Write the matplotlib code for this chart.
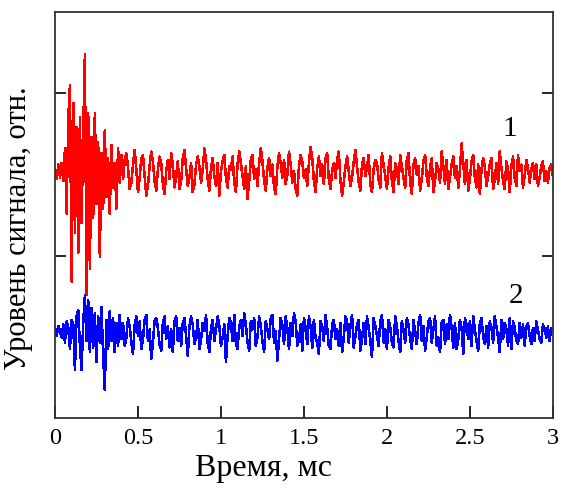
import numpy as np
import matplotlib
matplotlib.use("Agg")
import matplotlib.pyplot as plt

plt.rcParams['font.family'] = ['Liberation Serif', 'DejaVu Serif']

# Signal levels (relative units)
red_level = 1.51
blue_level = 0.525

# Red signal (curve 1): deviations from its level, sampled every 0.01 ms from 0 to 3 ms
red_dev = [
    0.02, -0.04, 0.05, -0.03, 0.06, -0.05,
    0.15, -0.25, 0.34, 0.54, -0.67, 0.43, -0.37, 0.28, -0.49, 0.34,
    -0.31, 0.25, 0.73, -0.75, 0.37, -0.59, 0.22, -0.28, 0.37, -0.19,
    0.19, -0.52, 0.12, -0.22, 0.26, -0.15, 0.09, -0.25, 0.17, -0.09,
    0.06, -0.22, 0.15, -0.06, 0.11,
    -0.04, 0.08, 0.12, 0.03, -0.10, -0.06, 0.05, 0.14, 0.02, -0.12, -0.03, 0.09, 0.11, -0.02, -0.14, -0.08, 0.04, 0.13, 0.07, -0.05,
    -0.11, 0.02, 0.10, 0.06, -0.07, -0.13, 0.01, 0.08, -0.04, 0.12, 0.05, -0.09, -0.02, 0.07, -0.10, -0.05, 0.09, 0.14, 0.03, -0.08,
    -0.03, 0.06, -0.12, -0.07, 0.05, 0.10, 0.04, -0.06, 0.02, 0.15, 0.08, -0.04, -0.11, 0.03, 0.09, -0.02, -0.08, 0.06, -0.14, 0.01,
    0.07, 0.11, -0.03, -0.09, 0.04, 0.02, 0.10, -0.06, -0.12, 0.05, 0.13, 0.06, -0.02, -0.10, 0.04, -0.16, -0.05, 0.08, 0.11, -0.04,
    0.02, -0.08, 0.06, 0.15, 0.07, -0.05, -0.11, 0.03, 0.09, -0.02, 0.05, -0.09, -0.13, 0.04, 0.12, 0.06, -0.03, 0.08, -0.07, -0.01,
    0.13, 0.05, -0.06, 0.01, -0.10, -0.14, 0.04, 0.11, 0.07, -0.03, 0.02, -0.08, 0.06, 0.16, 0.09, -0.05, -0.12, 0.03, 0.10, -0.02,
    0.05, -0.07, 0.09, 0.12, -0.04, -0.10, 0.02, 0.06, -0.03, 0.08, 0.13, -0.05, -0.14, -0.06, 0.04, 0.10, 0.01, -0.08, -0.03, 0.07,
    0.14, 0.04, -0.06, -0.11, 0.05, 0.09, -0.02, 0.03, 0.11, -0.07, -0.12, 0.02, 0.08, 0.06, -0.04, -0.09, 0.12, 0.05, -0.02, -0.10,
    0.03, 0.10, -0.05, -0.12, 0.06, 0.02, -0.07, 0.11, 0.04, -0.03, -0.09, 0.08, 0.12, -0.06, -0.13, 0.05, 0.09, -0.01, 0.04, -0.11,
    -0.04, 0.07, 0.11, -0.02, -0.08, 0.03, 0.09, -0.12, -0.05, 0.06, 0.02, -0.06, 0.13, 0.04, -0.07, 0.08, -0.10, -0.03, 0.05, 0.10,
    -0.03, 0.04, -0.09, 0.02, 0.18, 0.06, -0.07, 0.08, -0.11, -0.04, 0.07, 0.11, -0.03, -0.09, 0.05, -0.13, 0.02, 0.09, 0.04, -0.08,
    -0.02, 0.05, 0.09, -0.10, -0.04, 0.06, -0.07, 0.13, 0.03, -0.05, -0.10, 0.07, 0.02, -0.12, 0.04, 0.10, -0.03, -0.08, 0.11, 0.01,
    0.05, -0.09, -0.02, 0.08, 0.03, -0.06, 0.02, 0.06, -0.04, 0.05, -0.08, -0.03, 0.04, 0.07, -0.05, 0.01, -0.06, 0.03, 0.05, -0.02,
]

# Blue signal (curve 2)
blue_dev = [
    0.03, -0.02, 0.04, 0.01, -0.03, 0.05,
    -0.06, 0.07, 0.03, -0.10, 0.08, 0.05, -0.23, 0.10, 0.14, -0.08,
    -0.23, 0.06, 0.23, -0.05, 0.20, -0.12, 0.15, -0.09, 0.12, -0.18,
    0.10, -0.06, 0.16, -0.14, -0.35, 0.08, -0.10, 0.13, -0.05, 0.09,
    -0.12, 0.06, -0.08, 0.11, -0.04,
    0.06, -0.08, -0.03, 0.09, 0.04, -0.06, -0.13, 0.05, 0.10, -0.02, 0.07, -0.10, -0.04, 0.08, 0.11, -0.05, 0.02, -0.16, -0.06, 0.07,
    0.09, 0.03, -0.07, -0.11, 0.06, 0.10, -0.04, 0.04, -0.09, 0.02, -0.12, 0.07, 0.10, -0.05, 0.03, -0.08, 0.06, 0.09, -0.02, -0.14,
    0.04, 0.10, 0.05, -0.07, -0.03, 0.08, -0.10, -0.04, 0.06, 0.01, 0.11, -0.06, -0.12, 0.03, 0.08, -0.05, 0.02, 0.10, 0.04, -0.08,
    -0.03, 0.05, -0.18, -0.02, 0.09, 0.06, -0.05, 0.11, -0.07, -0.10, 0.04, 0.08, -0.02, 0.12, 0.05, -0.06, -0.11, 0.07, 0.02, 0.09,
    -0.08, -0.03, 0.10, 0.04, -0.05, -0.12, 0.07, 0.02, -0.04, 0.09, 0.11, -0.06, 0.01, -0.17, -0.04, 0.09, 0.05, -0.07, 0.10, 0.03,
    -0.10, 0.06, -0.02, 0.12, 0.07, -0.08, -0.04, 0.05, -0.11, 0.09, 0.03, -0.07, 0.10, 0.04, -0.09, 0.08, -0.03, -0.06, -0.13, 0.07,
    0.04, -0.05, 0.11, 0.03, -0.08, -0.10, 0.05, 0.08, -0.04, 0.02, -0.08, 0.06, -0.12, -0.03, 0.10, 0.07, -0.06, 0.04, 0.11, -0.09,
    -0.02, 0.05, 0.08, -0.11, -0.04, 0.06, -0.07, 0.10, 0.03, -0.05, -0.15, 0.09, 0.04, -0.02, -0.08, 0.07, 0.11, -0.06, 0.02, -0.10,
    0.08, 0.03, -0.06, -0.09, 0.10, 0.04, -0.05, -0.12, 0.07, 0.02, -0.06, 0.09, 0.05, -0.04, -0.10, 0.08, 0.01, -0.07, 0.06, 0.11,
    -0.05, 0.04, -0.11, -0.03, 0.07, 0.09, -0.06, 0.02, 0.10, -0.08, -0.03, -0.12, 0.06, 0.08, -0.07, 0.05, -0.04, 0.11, 0.03, -0.09,
    0.06, -0.10, -0.04, 0.08, 0.03, -0.13, 0.09, 0.05, -0.04, 0.07, -0.08, 0.10, 0.02, -0.05, -0.11, 0.06, 0.09, -0.02, -0.07, 0.04,
    -0.09, 0.07, 0.03, -0.06, 0.10, 0.04, -0.03, -0.12, 0.08, -0.04, 0.06, 0.02, -0.08, 0.09, -0.10, 0.07, 0.03, -0.05, -0.07, 0.06,
    -0.03, 0.05, -0.08, 0.04, 0.06, -0.02, -0.07, 0.03, -0.05, 0.07, 0.02, -0.04, -0.06, 0.05, 0.03, -0.03, 0.04, -0.05, 0.03, 0.02,
]

x_ticks = [0, 0.5, 1, 1.5, 2, 2.5, 3]
x_tick_labels = ["0", "0.5", "1", "1.5", "2", "2.5", "3"]
y_ticks = [1, 2]

t_red = np.linspace(0, 3, len(red_dev))
t_blue = np.linspace(0, 3, len(blue_dev))
red = red_level + np.array(red_dev)
blue = blue_level + np.array(blue_dev)

fig = plt.figure(figsize=(5.63, 4.88), dpi=100)
ax = fig.add_axes([0.0977, 0.1434, 0.8843, 0.832])

ax.plot(t_blue, blue, color='#0000ff', lw=1.1, antialiased=False)
ax.plot(t_red, red, color='#ff0000', lw=1.1, antialiased=False)

ax.set_xlim(0, 3)
ax.set_ylim(0, 2.5)
ax.set_xticks(x_ticks)
ax.set_xticklabels(x_tick_labels)
ax.set_yticks(y_ticks)
ax.set_yticklabels([])
ax.tick_params(axis='x', direction='in', length=9, width=1.2, labelsize=17.5, pad=7)
ax.tick_params(axis='y', direction='in', length=8, width=1.2, right=True, left=True)
for s in ax.spines.values():
    s.set_linewidth(1.3)
    s.set_color('#333333')

ax.set_xlabel("Время, мс", fontsize=23)
ax.xaxis.set_label_coords(0.418, -0.088)
ax.set_ylabel("Уровень сигнала, отн.", fontsize=22)
ax.yaxis.set_label_coords(-0.045, 0.468)

ax.text(2.74, 1.78, "1", fontsize=21, ha='center', va='center')
ax.text(2.78, 0.75, "2", fontsize=21, ha='center', va='center')

fig.savefig("out.png", dpi=100)
